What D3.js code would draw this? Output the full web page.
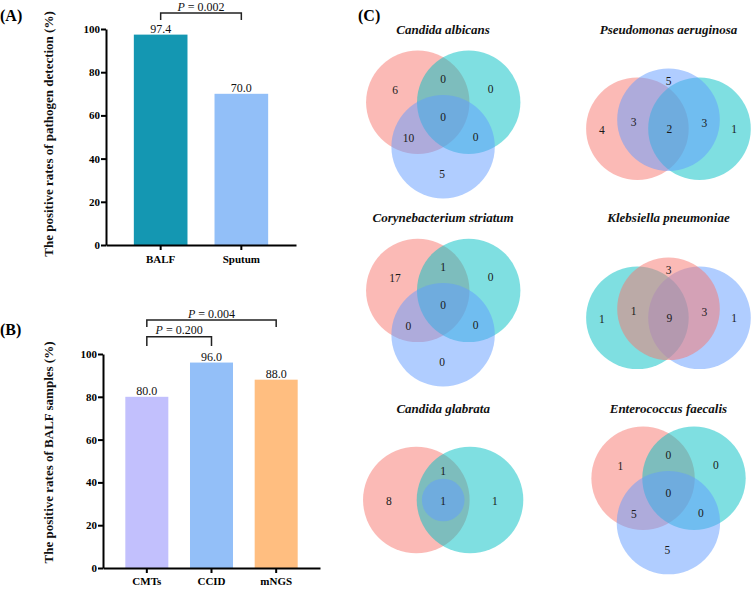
<!DOCTYPE html>
<html>
<head>
<meta charset="utf-8">
<script src="https://cdn.jsdelivr.net/npm/d3@7"></script>
<style>
  body { margin: 0; background: #fff; }
  svg { display: block; }
  text { font-family: "Liberation Serif", "Times New Roman", "DejaVu Serif", serif; }
</style>
</head>
<body>
<svg id="chart" width="753" height="589"></svg>
<script>
// ---- data: bar panels ----
const yTicks = [0, 20, 40, 60, 80, 100];

const barACategories = ['BALF', 'Sputum'];
const barAValues = [97.4, 70.0];
const barAColors = ['#1497B2', '#92BFF8'];
const barAComparisons = [{ from: 'BALF', to: 'Sputum', p: '0.002' }];

const barBCategories = ['CMTs', 'CCID', 'mNGS'];
const barBValues = [80.0, 96.0, 88.0];
const barBColors = ['#C2C0FD', '#93BFF8', '#FFBE80'];
const barBComparisons = [
  { from: 'CMTs', to: 'CCID', p: '0.200' },
  { from: 'CMTs', to: 'mNGS', p: '0.004' }
];

// ---- data: venn panels ----
const vennTitles = [
  'Candida albicans', 'Pseudomonas aeruginosa',
  'Corynebacterium striatum', 'Klebsiella pneumoniae',
  'Candida glabrata', 'Enterococcus faecalis'
];
const vennTypes = ['triangle', 'linear', 'triangle', 'linear', 'nested', 'triangle'];
// counts follow the region order of each layout type below
const vennCounts = [
  [6, 0, 0, 0, 10, 0, 5],
  [4, 5, 1, 3, 3, 2],
  [17, 1, 0, 0, 0, 0, 0],
  [1, 3, 1, 1, 3, 9],
  [8, 1, 1, 1],
  [1, 0, 0, 0, 5, 0, 5]
];
const RED = '#F8766D', TEAL = '#00BFC4', BLUE = '#619CFF';
const vennSetColors = [
  [RED, TEAL, BLUE],
  [RED, TEAL, BLUE],
  [RED, TEAL, BLUE],
  [TEAL, BLUE, RED],
  [RED, TEAL, BLUE],
  [RED, TEAL, BLUE]
];

// ---- layout ----
// unit geometry of the venn shapes (in radii), circles in drawing order
const vennLayouts = {
  // regions: A, AB, B, ABC, AC, BC, C
  triangle: {
    circles: [[-0.49, -0.286, 1], [0.495, -0.286, 1], [0, 0.573, 1]],
    labels: [[-0.93, -0.53], [0, -0.73], [0.92, -0.54], [0, 0], [-0.67, 0.41], [0.63, 0.38], [-0.02, 1.1]]
  },
  // circles: left, right, middle ; regions: L, M, R, LM, MR, LMR
  linear: {
    circles: [[-0.606, 0, 1], [0.604, 0, 1], [0, -0.175, 1]],
    labels: [[-1.30, 0.03], [0, -0.93], [1.28, 0.01], [-0.68, -0.14], [0.70, -0.11], [0.015, 0.01]]
  },
  // regions: A, B, AB, ABC (small circle inside AB)
  nested: {
    circles: [[-0.504, 0, 1], [0.503, 0, 1], [0, 0, 0.4]],
    labels: [[-1.02, 0.01], [0.97, 0.01], [0, -0.55], [0, 0.01]]
  }
};
const vennFrames = [
  { cx: 443.1, cy: 117.1, r: 51.7, ty: 34 },
  { cx: 668.5, cy: 128.7, r: 51.3, ty: 34 },
  { cx: 443.1, cy: 305.2, r: 51.7, ty: 221.8 },
  { cx: 668.5, cy: 317.8, r: 51.3, ty: 221.8 },
  { cx: 443.2, cy: 500.0, r: 53.3, ty: 413 },
  { cx: 668.4, cy: 493.0, r: 51.7, ty: 413 }
];

const FONT = '"Liberation Serif", "Times New Roman", "DejaVu Serif", serif';
const svg = d3.select('#chart').attr('font-family', FONT);

function drawBarPanel(cfg) {
  const g = svg.append('g');
  const x = d3.scaleBand()
    .domain(cfg.categories)
    .range(cfg.xRange)
    .paddingInner(0.335)
    .paddingOuter(0.345);
  const y = d3.scaleLinear().domain([0, 100]).range(cfg.yRange);

  g.selectAll('rect.bar')
    .data(cfg.values)
    .join('rect')
    .attr('class', 'bar')
    .attr('x', (d, i) => x(cfg.categories[i]))
    .attr('y', d => y(d))
    .attr('width', x.bandwidth())
    .attr('height', d => y(0) - y(d))
    .attr('fill', (d, i) => cfg.colors[i]);

  g.selectAll('text.val')
    .data(cfg.values)
    .join('text')
    .attr('class', 'val')
    .attr('x', (d, i) => x(cfg.categories[i]) + x.bandwidth() / 2)
    .attr('y', d => y(d) - 2)
    .attr('text-anchor', 'middle')
    .attr('font-size', 12)
    .attr('fill', '#111')
    .text(d => d.toFixed(1));

  const xAxis = g.append('g')
    .attr('transform', `translate(0,${y(0)})`)
    .call(d3.axisBottom(x).tickSize(5).tickSizeOuter(0).tickPadding(cfg.xPad));
  const yAxis = g.append('g')
    .attr('transform', `translate(${cfg.xRange[0]},0)`)
    .call(d3.axisLeft(y).tickValues(yTicks).tickSize(5).tickSizeOuter(0).tickPadding(1));

  [xAxis, yAxis].forEach(ax => {
    ax.attr('font-family', FONT).attr('font-size', null);
    ax.select('.domain').attr('stroke', '#000').attr('stroke-width', 2);
    ax.selectAll('.tick line').attr('stroke', '#000').attr('stroke-width', 2);
    ax.selectAll('.tick text')
      .attr('fill', '#000')
      .attr('font-size', 11)
      .attr('font-weight', 'bold');
  });

  // axis title
  g.append('text')
    .attr('transform', `translate(53,${cfg.titleY}) rotate(-90)`)
    .attr('text-anchor', 'middle')
    .attr('font-size', 13)
    .attr('font-weight', 'bold')
    .attr('fill', '#111')
    .text(cfg.title);

  // significance brackets
  cfg.comparisons.forEach((c, i) => {
    const lv = cfg.bracketLevels[i];
    const x0 = x(c.from) + x.bandwidth() / 2;
    const x1 = x(c.to) + x.bandwidth() / 2;
    g.append('path')
      .attr('d', `M${x0},${lv.bottom}V${lv.top}H${x1}V${lv.bottom}`)
      .attr('fill', 'none')
      .attr('stroke', '#222')
      .attr('stroke-width', 1.5);
    const t = g.append('text')
      .attr('x', (x0 + x1) / 2)
      .attr('y', lv.top - 2.5)
      .attr('text-anchor', 'middle')
      .attr('font-size', 12)
      .attr('fill', '#111');
    t.append('tspan').attr('font-style', 'italic').text('P');
    t.append('tspan').text(' = ' + c.p);
  });

  // panel letter
  svg.append('text')
    .attr('x', cfg.letterPos[0])
    .attr('y', cfg.letterPos[1])
    .attr('font-size', 16)
    .attr('font-weight', 'bold')
    .attr('fill', '#000')
    .text(cfg.letter);
}

drawBarPanel({
  categories: barACategories,
  values: barAValues,
  colors: barAColors,
  comparisons: barAComparisons,
  xRange: [106, 296],
  yRange: [245, 29],
  xPad: 5,
  title: 'The positive rates of pathogen detection (%)',
  titleY: 134,
  bracketLevels: [{ top: 13, bottom: 20 }],
  letter: '(A)',
  letterPos: [0, 21]
});

drawBarPanel({
  categories: barBCategories,
  values: barBValues,
  colors: barBColors,
  comparisons: barBComparisons,
  xRange: [103, 320],
  yRange: [568, 354],
  xPad: 4.5,
  title: 'The positive rates of BALF samples (%)',
  titleY: 452.5,
  bracketLevels: [{ top: 336.7, bottom: 346 }, { top: 320, bottom: 327 }],
  letter: '(B)',
  letterPos: [0, 335]
});

// ---- venn panels ----
svg.append('text')
  .attr('x', 358)
  .attr('y', 21)
  .attr('font-size', 16)
  .attr('font-weight', 'bold')
  .attr('fill', '#000')
  .text('(C)');

vennTitles.forEach((title, k) => {
  const f = vennFrames[k];
  const lay = vennLayouts[vennTypes[k]];
  const sx = d3.scaleLinear().domain([-1, 1]).range([f.cx - f.r, f.cx + f.r]);
  const sy = d3.scaleLinear().domain([-1, 1]).range([f.cy - f.r, f.cy + f.r]);
  const g = svg.append('g');

  g.append('text')
    .attr('x', f.cx)
    .attr('y', f.ty)
    .attr('text-anchor', 'middle')
    .attr('font-size', 13)
    .attr('font-weight', 'bold')
    .attr('font-style', 'italic')
    .attr('fill', '#111')
    .text(title);

  g.selectAll('circle')
    .data(lay.circles)
    .join('circle')
    .attr('cx', d => sx(d[0]))
    .attr('cy', d => sy(d[1]))
    .attr('r', d => sx(d[2]) - sx(0))
    .attr('fill', (d, i) => vennSetColors[k][i])
    .attr('fill-opacity', 0.5);

  g.selectAll('text.count')
    .data(vennCounts[k])
    .join('text')
    .attr('class', 'count')
    .attr('x', (d, i) => sx(lay.labels[i][0]))
    .attr('y', (d, i) => sy(lay.labels[i][1]))
    .attr('text-anchor', 'middle')
    .attr('dominant-baseline', 'central')
    .attr('font-size', 11.5)
    .attr('fill', '#1a1a1a')
    .text(d => d);
});
</script>
</body>
</html>
